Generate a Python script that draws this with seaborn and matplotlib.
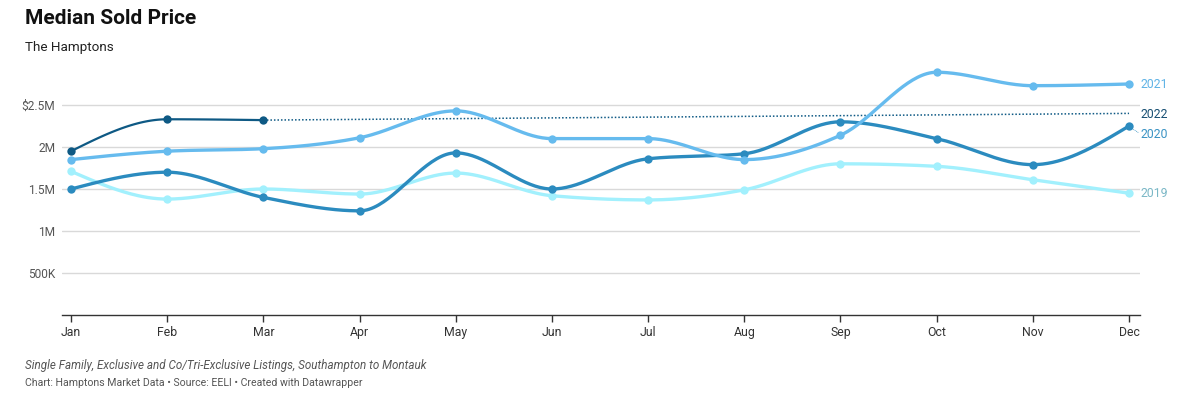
import numpy as np
import pandas as pd
import matplotlib
matplotlib.use("Agg")
import matplotlib.pyplot as plt
import seaborn as sns

months = ["Jan", "Feb", "Mar", "Apr", "May", "Jun", "Jul", "Aug", "Sep", "Oct", "Nov", "Dec"]
p2019 = [1.71, 1.38, 1.50, 1.44, 1.69, 1.42, 1.37, 1.49, 1.80, 1.77, 1.61, 1.45]
p2020 = [1.50, 1.70, 1.40, 1.24, 1.93, 1.50, 1.86, 1.92, 2.30, 2.10, 1.79, 2.25]
p2021 = [1.85, 1.95, 1.98, 2.11, 2.43, 2.10, 2.10, 1.85, 2.14, 2.89, 2.73, 2.75]
p2022 = [1.95, 2.33, 2.32]
proj2022_months = ["Mar", "Dec"]
proj2022 = [2.32, 2.40]
yticks = [0.5, 1.0, 1.5, 2.0, 2.5]
ytick_labels = ["500K", "1M", "1.5M", "2M", "$2.5M"]

colors = {"2019": "#a2f0fd", "2020": "#2b8bbf", "2021": "#66bbee", "2022": "#0e5984"}
label_colors = {"2019": "#7ab7c6", "2020": "#3a93c4", "2021": "#5fb3e6", "2022": "#174f73"}


def monotone_x(y, n=40):
    """d3 curveMonotoneX style interpolation (x spacing = 1)."""
    y = np.asarray(y, float)
    k = len(y)
    d = np.diff(y)
    t = np.zeros(k)
    for i in range(1, k - 1):
        s0, s1 = d[i - 1], d[i]
        p = (s0 + s1) / 2
        t[i] = (np.sign(s0) + np.sign(s1)) * min(abs(s0), abs(s1), 0.5 * abs(p))
    t[0] = (3 * d[0] - t[1]) / 2 if k > 2 else d[0]
    t[-1] = (3 * d[-1] - t[-2]) / 2 if k > 2 else d[-1]
    xs, ys = [], []
    for i in range(k - 1):
        s = np.linspace(0, 1, n, endpoint=(i == k - 2))
        h00 = 2 * s**3 - 3 * s**2 + 1
        h10 = s**3 - 2 * s**2 + s
        h01 = -2 * s**3 + 3 * s**2
        h11 = s**3 - s**2
        xs.append(i + s)
        ys.append(h00 * y[i] + h10 * t[i] + h01 * y[i + 1] + h11 * t[i + 1])
    return np.concatenate(xs), np.concatenate(ys)


series = {"2019": p2019, "2020": p2020, "2021": p2021, "2022": p2022}
curve_rows, point_rows = [], []
for name, vals in series.items():
    xs, ys = monotone_x(vals)
    curve_rows.append(pd.DataFrame({"x": xs, "y": ys, "year": name}))
    point_rows.append(pd.DataFrame({"x": np.arange(len(vals)), "y": vals, "year": name}))
curves = pd.concat(curve_rows)
points = pd.concat(point_rows)

sns.set_theme(style="white")
plt.rcParams["font.family"] = ["Roboto", "DejaVu Sans"]

fig = plt.figure(figsize=(12, 4), dpi=100)
ax = fig.add_axes([62 / 1200, 1 - 315 / 400, (1140 - 62) / 1200, 252 / 400])

for name in ["2019", "2020", "2021", "2022"]:
    sub = curves[curves.year == name]
    lw = 1.6 if name == "2022" else 2.4
    sns.lineplot(data=sub, x="x", y="y", color=colors[name], linewidth=lw, ax=ax,
                 sort=False, estimator=None, zorder=3)
    ps = points[points.year == name]
    sns.scatterplot(data=ps, x="x", y="y", color=colors[name], s=36, linewidth=0, ax=ax, zorder=4)

# projection dotted line for 2022
px = [months.index(m) for m in proj2022_months]
ax.plot(px, proj2022, color=colors["2022"], linestyle=(0, (1, 1.3)), linewidth=1.1, zorder=2)

ax.set_xlim(-0.094, 11.114)
ax.set_ylim(0, 3.0)
ax.set_yticks(yticks)
ax.set_yticklabels(ytick_labels)
ax.set_xticks(range(12))
ax.set_xticklabels(months)
ax.set_xlabel("")
ax.set_ylabel("")
ax.grid(axis="y", color="#d9d9d9", linewidth=1)
ax.set_axisbelow(True)
for s in ["top", "right", "left"]:
    ax.spines[s].set_visible(False)
ax.spines["bottom"].set_color("#333333")
ax.spines["bottom"].set_linewidth(1)
ax.tick_params(axis="y", length=0, pad=5, labelsize=8.6, labelcolor="#555555")
ax.tick_params(axis="x", length=5, width=1, color="#333333", pad=3, labelsize=8.8, labelcolor="#333333", bottom=True)
for lbl in ax.get_yticklabels():
    lbl.set_horizontalalignment("right")

# end labels
label_y = {"2021": 2.75, "2022": 2.39, "2020": 2.15, "2019": 1.45}
for name, yv in label_y.items():
    ax.text(11.12, yv, name, color=label_colors[name], fontsize=8.8, va="center", ha="left", clip_on=False)
# leader for 2020 label
ax.plot([11.03, 11.1], [2.22, 2.17], color=label_colors["2020"], linewidth=0.6, linestyle=(0, (1, 1)), clip_on=False)

fig.text(25 / 1200, 1 - 19 / 400, "Median Sold Price", fontsize=15, fontweight="bold", color="#111111", va="center", ha="left")
fig.text(25 / 1200, 1 - 48 / 400, "The Hamptons", fontsize=9.7, color="#222222", va="center", ha="left")
fig.text(25 / 1200, 1 - 366 / 400, "Single Family, Exclusive and Co/Tri-Exclusive Listings, Southampton to Montauk",
         fontsize=8.4, style="italic", color="#555555", va="center", ha="left")
fig.text(25 / 1200, 1 - 383 / 400, "Chart: Hamptons Market Data \u2022 Source: EELI \u2022 Created with Datawrapper",
         fontsize=7.6, color="#555555", va="center", ha="left")

fig.savefig("out.png", dpi=100, facecolor="white")
